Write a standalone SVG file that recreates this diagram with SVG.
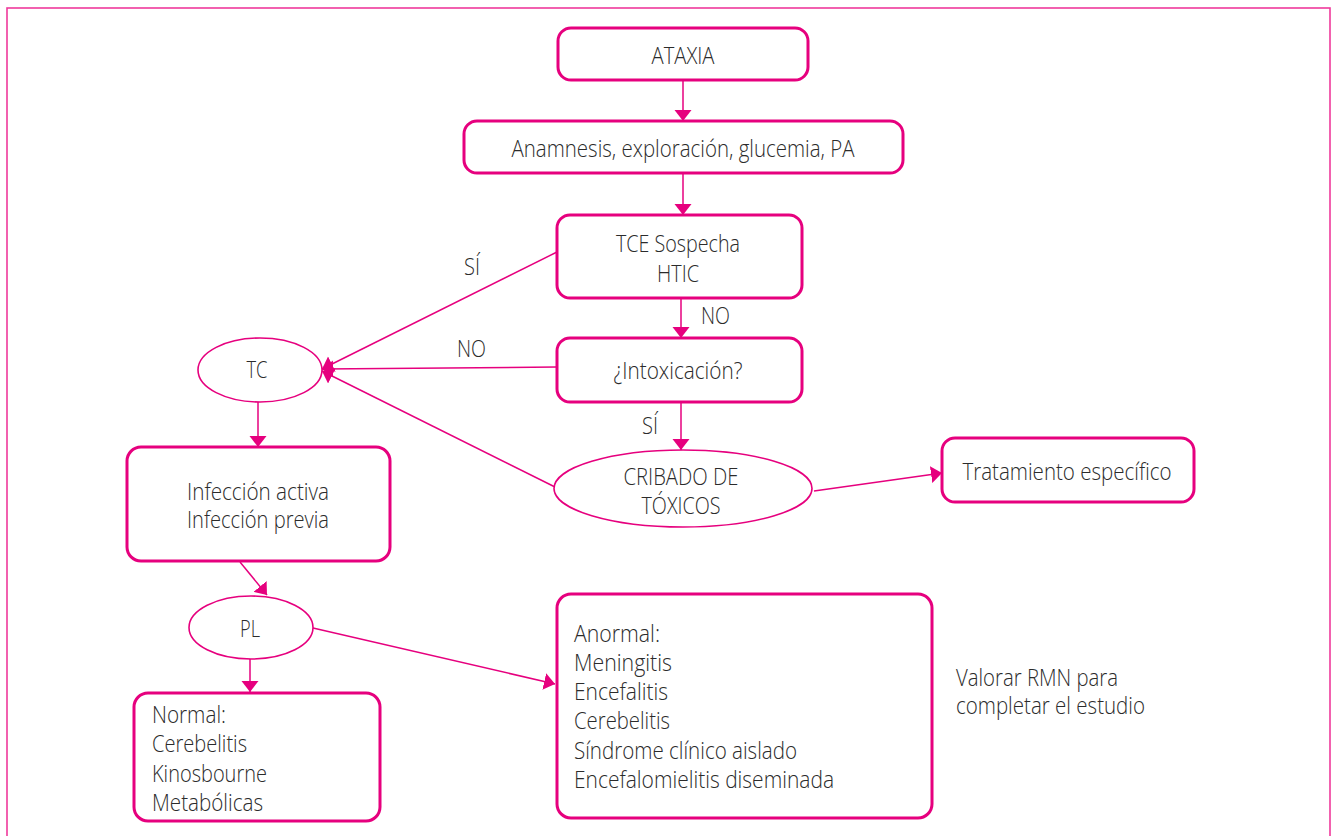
<svg xmlns="http://www.w3.org/2000/svg" width="1335" height="836" viewBox="0 0 1335 836">
<style>
.box{fill:#fff;stroke:#e6007e;stroke-width:3}
.ell{fill:#fff;stroke:#e6007e;stroke-width:1.6}
.edge{fill:none;stroke:#e6007e;stroke-width:1.5}
text{font-family:"Open Sans","Noto Sans","Liberation Sans",sans-serif;font-size:23px;font-weight:300;fill:#2b2b2b}
.c{text-anchor:middle}
</style>
<defs>
<marker id="ah" markerUnits="userSpaceOnUse" markerWidth="12" markerHeight="18" refX="11" refY="8.5" orient="auto">
<path d="M0,0 L11,8.5 L0,17 Z" fill="#e6007e"/>
</marker>
</defs>
<rect x="7" y="8" width="1323" height="840" fill="none" stroke="#ef3a9c" stroke-width="1.6"/>
<g id="connectors">
<line class="edge" x1="683" y1="80" x2="683" y2="121" marker-end="url(#ah)"/>
<line class="edge" x1="683" y1="173" x2="683" y2="215" marker-end="url(#ah)"/>
<line class="edge" x1="681" y1="298" x2="681" y2="338" marker-end="url(#ah)"/>
<line class="edge" x1="557" y1="252" x2="322" y2="369" marker-end="url(#ah)"/>
<line class="edge" x1="557" y1="367" x2="322" y2="369" marker-end="url(#ah)"/>
<line class="edge" x1="555" y1="487" x2="322" y2="371" marker-end="url(#ah)"/>
<line class="edge" x1="681" y1="402" x2="681" y2="450" marker-end="url(#ah)"/>
<line class="edge" x1="814" y1="491" x2="942" y2="473" marker-end="url(#ah)"/>
<line class="edge" x1="258" y1="402" x2="258" y2="447" marker-end="url(#ah)"/>
<line class="edge" x1="240" y1="562" x2="267" y2="595" marker-end="url(#ah)"/>
<line class="edge" x1="250" y1="659" x2="250" y2="692" marker-end="url(#ah)"/>
<line class="edge" x1="313" y1="628" x2="555" y2="684" marker-end="url(#ah)"/>
<text x="464" y="275" textLength="16" lengthAdjust="spacingAndGlyphs">SÍ</text>
<text x="457" y="357" textLength="29" lengthAdjust="spacingAndGlyphs">NO</text>
<text x="701" y="324" textLength="29" lengthAdjust="spacingAndGlyphs">NO</text>
<text x="642" y="434" textLength="16" lengthAdjust="spacingAndGlyphs">SÍ</text>
</g>
<g id="ataxia">
<rect class="box" x="558" y="28" width="250" height="52" rx="13"/>
<text class="c" x="683" y="64" textLength="63" lengthAdjust="spacingAndGlyphs">ATAXIA</text>
</g>
<g id="anamnesis">
<rect class="box" x="464" y="121" width="439" height="52" rx="13"/>
<text class="c" x="683" y="157" textLength="343" lengthAdjust="spacingAndGlyphs">Anamnesis, exploración, glucemia, PA</text>
</g>
<g id="tce">
<rect class="box" x="557" y="215" width="245" height="83" rx="13"/>
<text class="c" x="678" y="252" textLength="124" lengthAdjust="spacingAndGlyphs">TCE Sospecha</text>
<text class="c" x="678" y="282" textLength="42" lengthAdjust="spacingAndGlyphs">HTIC</text>
</g>
<g id="intoxicacion">
<rect class="box" x="557" y="338" width="245" height="64" rx="13"/>
<text class="c" x="678" y="379" textLength="129" lengthAdjust="spacingAndGlyphs">¿Intoxicación?</text>
</g>
<g id="cribado">
<ellipse class="ell" cx="683" cy="488.5" rx="129" ry="38.5"/>
<text class="c" x="681" y="485" textLength="115" lengthAdjust="spacingAndGlyphs">CRIBADO DE</text>
<text class="c" x="681" y="514" textLength="79" lengthAdjust="spacingAndGlyphs">TÓXICOS</text>
</g>
<g id="tratamiento">
<rect class="box" x="942" y="438" width="252" height="64" rx="13"/>
<text class="c" x="1067" y="480" textLength="209" lengthAdjust="spacingAndGlyphs">Tratamiento específico</text>
</g>
<g id="tc">
<ellipse class="ell" cx="260" cy="370" rx="62" ry="32"/>
<text class="c" x="257" y="378" textLength="21" lengthAdjust="spacingAndGlyphs">TC</text>
</g>
<g id="infeccion">
<rect class="box" x="127" y="447" width="263" height="114" rx="14"/>
<text class="c" x="258" y="500" textLength="142" lengthAdjust="spacingAndGlyphs">Infección activa</text>
<text class="c" x="258" y="528" textLength="142" lengthAdjust="spacingAndGlyphs">Infección previa</text>
</g>
<g id="pl">
<ellipse class="ell" cx="251" cy="627.5" rx="62" ry="31.5"/>
<text class="c" x="250" y="637" textLength="20" lengthAdjust="spacingAndGlyphs">PL</text>
</g>
<g id="normal">
<rect class="box" x="134" y="693" width="246" height="128" rx="14"/>
<text x="152" y="723" textLength="74" lengthAdjust="spacingAndGlyphs">Normal:</text>
<text x="152" y="752" textLength="95" lengthAdjust="spacingAndGlyphs">Cerebelitis</text>
<text x="152" y="782" textLength="115" lengthAdjust="spacingAndGlyphs">Kinosbourne</text>
<text x="152" y="811" textLength="111" lengthAdjust="spacingAndGlyphs">Metabólicas</text>
</g>
<g id="anormal">
<rect class="box" x="557" y="594" width="375" height="224" rx="14"/>
<text x="574" y="642" textLength="86" lengthAdjust="spacingAndGlyphs">Anormal:</text>
<text x="574" y="671" textLength="98" lengthAdjust="spacingAndGlyphs">Meningitis</text>
<text x="574" y="700" textLength="94" lengthAdjust="spacingAndGlyphs">Encefalitis</text>
<text x="574" y="729" textLength="96" lengthAdjust="spacingAndGlyphs">Cerebelitis</text>
<text x="574" y="759" textLength="223" lengthAdjust="spacingAndGlyphs">Síndrome clínico aislado</text>
<text x="574" y="788" textLength="260" lengthAdjust="spacingAndGlyphs">Encefalomielitis diseminada</text>
</g>
<g id="valorar">
<text x="956" y="686" textLength="162" lengthAdjust="spacingAndGlyphs">Valorar RMN para</text>
<text x="956" y="714" textLength="189" lengthAdjust="spacingAndGlyphs">completar el estudio</text>
</g>
</svg>
